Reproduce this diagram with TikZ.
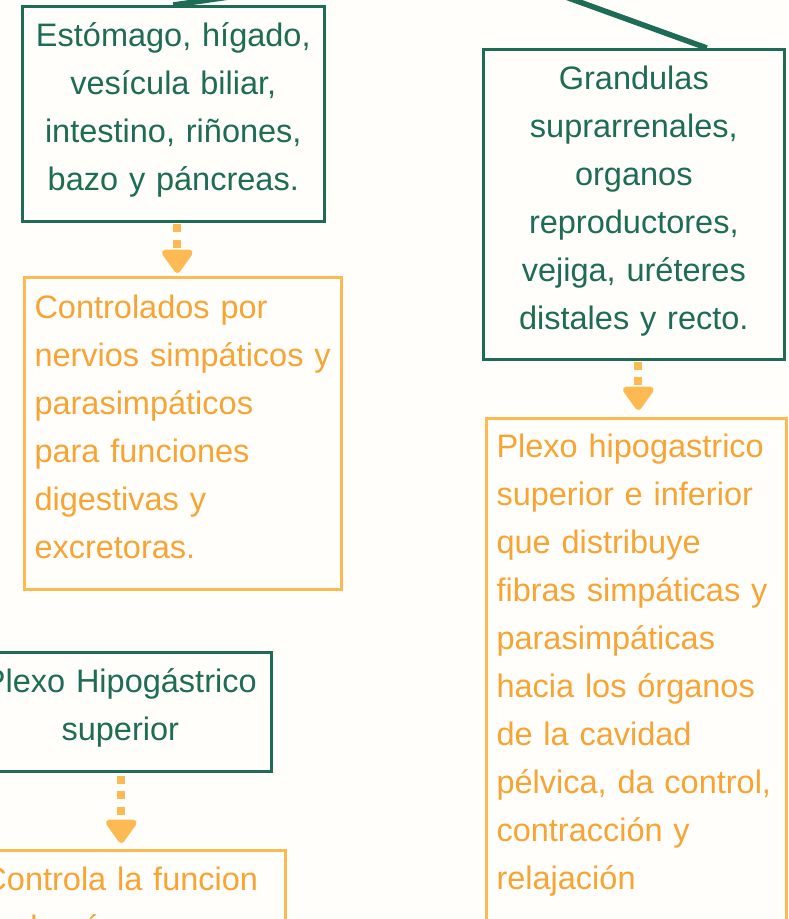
\documentclass[tikz,border=0pt]{standalone}
\usepackage{fontspec}
\setmainfont{Liberation Sans}
\usetikzlibrary{arrows.meta}
\definecolor{dkgreen}{RGB}{30,108,86}
\definecolor{orgtext}{RGB}{247,164,52}
\definecolor{orgline}{RGB}{253,186,82}
\definecolor{bgpaper}{RGB}{255,254,250}
\newcommand\mystrut{\vrule height 29pt depth 19pt width 0pt}
\begin{document}
\begin{tikzpicture}[x=1pt,y=-1pt,
  boxfont/.style={font=\fontsize{32.5pt}{48pt}\selectfont},
  gbox/.style={boxfont, draw=dkgreen, line width=2.6pt, text=dkgreen, align=center,
    inner xsep=10pt, inner ysep=4pt, anchor=north west},
  obox/.style={boxfont, draw=orgline, line width=3pt, text=orgtext, align=left,
    inner xsep=10pt, inner ysep=4pt, anchor=north west},
  gline/.style={draw=dkgreen, line width=5.5pt},
  darrow/.style={draw=orgline, line width=8pt, dash pattern=on 8pt off 7.5pt,
    -{Triangle[width=35pt,length=26pt,round]}}]
\useasboundingbox (0,0) rectangle (788,919);
\clip (0,0) rectangle (788,919);
\fill[bgpaper] (0,0) rectangle (788,919);

\node[gbox, text width=282pt, minimum height=215pt] (b1) at (21,5)
  {\mystrut Estómago, hígado,\\ vesícula biliar,\\ intestino, riñones,\\ bazo y páncreas.\mystrut};
\node[obox, text width=297pt, minimum height=312pt] (o1) at (23,276)
  {\mystrut Controlados por\\ nervios simpáticos y\\ parasimpáticos\\ para funciones\\ digestivas y\\ excretoras.\mystrut};

\node[gbox, text width=281pt, minimum height=310pt] (b2) at (482,48)
  {\mystrut Grandulas\\ suprarrenales,\\ organos\\ reproductores,\\ vejiga, uréteres\\ distales y recto.\mystrut};
\node[obox, text width=280pt, inner ysep=10.4pt] (o2) at (485,417)
  {\mystrut Plexo hipogastrico\\ superior e inferior\\ que distribuye\\ fibras simpáticas y\\ parasimpáticas\\ hacia los órganos\\ de la cavidad\\ pélvica, da control,\\ contracción y\\ relajación\\ \mystrut};

\node[gbox, text width=282pt, minimum height=119pt] (b3) at (-32,651)
  {\mystrut Plexo Hipogástrico\\ superior\mystrut};
\node[obox, text width=292pt, inner ysep=11pt] (o3) at (-28,849)
  {\mystrut Controla la funcion\\ de los órganos\\ \mystrut};

\coordinate (s1) at (347,-20);
\draw[gline] (s1) -- (b1.north);
\coordinate (s2) at (505,-25);
\draw[gline] (s2) -- ([xshift=73pt]b2.north);

\draw[darrow, shorten <=1.5pt, shorten >=3pt] ([xshift=4pt]b1.south) -- ([xshift=4pt]b1.south |- o1.north);
\draw[darrow, shorten <=1pt, shorten >=7pt] ([xshift=4.5pt]b2.south) -- ([xshift=4.5pt]b2.south |- o2.north);
\draw[darrow, shorten <=3pt, shorten >=6pt] ([xshift=1pt]b3.south) -- ([xshift=1pt]b3.south |- o3.north);
\end{tikzpicture}
\end{document}
